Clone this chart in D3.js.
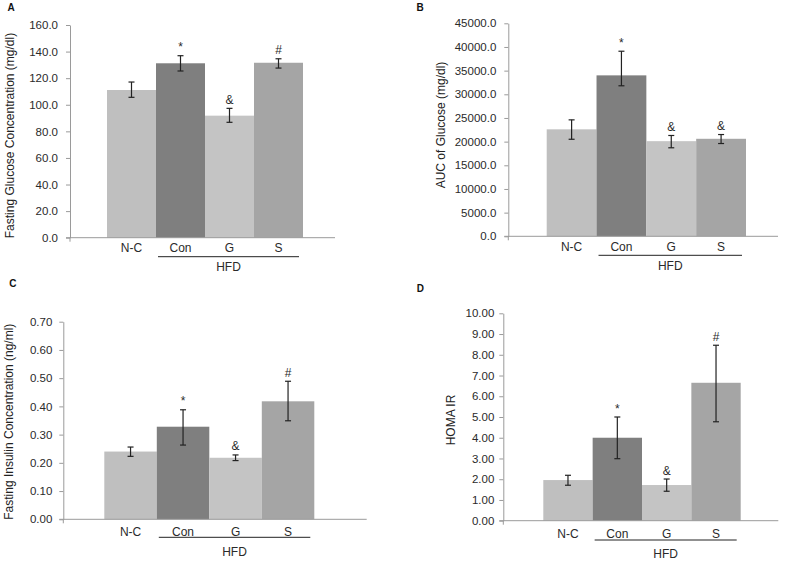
<!DOCTYPE html>
<html>
<head>
<meta charset="utf-8">
<script src="https://cdn.jsdelivr.net/npm/d3@7"></script>
<style>
  html, body { margin: 0; padding: 0; background: #ffffff; }
  svg { display: block; }
  text { font-family: "Liberation Sans", Arial, sans-serif; fill: #2a2a2a; }
</style>
</head>
<body>
<svg id="chart" width="787" height="562"></svg>
<script>
// ---------------- data ----------------
const categories = ["N-C", "Con", "G", "S"];
const groupLabel = "HFD";
const barColors = ["#bfbfbf", "#7f7f7f", "#c4c4c4", "#a5a5a5"];

// Panel A: fasting glucose
const glucoseMean = [111.1, 131.2, 91.8, 131.6];
const glucoseHigh = [117.1, 136.9, 97.3, 134.6];
const glucoseLow  = [105.6, 125.4, 86.8, 127.6];
const glucoseMarks = ["", "*", "&", "#"];
const glucoseTicks = [0, 20, 40, 60, 80, 100, 120, 140, 160];
const glucoseTickLabels = ["0.0", "20.0", "40.0", "60.0", "80.0", "100.0", "120.0", "140.0", "160.0"];

// Panel B: AUC of glucose
const aucMean = [22600, 34000, 20100, 20600];
const aucHigh = [24600, 39100, 21300, 21500];
const aucLow  = [20500, 31800, 18700, 19600];
const aucMarks = ["", "*", "&", "&"];
const aucTicks = [0, 5000, 10000, 15000, 20000, 25000, 30000, 35000, 40000, 45000];
const aucTickLabels = ["0.0", "5000.0", "10000.0", "15000.0", "20000.0", "25000.0", "30000.0", "35000.0", "40000.0", "45000.0"];

// Panel C: fasting insulin
const insulinMean = [0.240, 0.328, 0.218, 0.418];
const insulinHigh = [0.256, 0.388, 0.228, 0.489];
const insulinLow  = [0.223, 0.263, 0.208, 0.349];
const insulinMarks = ["", "*", "&", "#"];
const insulinTicks = [0, 0.1, 0.2, 0.3, 0.4, 0.5, 0.6, 0.7];
const insulinTickLabels = ["0.00", "0.10", "0.20", "0.30", "0.40", "0.50", "0.60", "0.70"];

// Panel D: HOMA IR
const homaMean = [1.96, 4.00, 1.72, 6.65];
const homaHigh = [2.19, 5.00, 2.01, 8.46];
const homaLow  = [1.71, 2.99, 1.42, 4.77];
const homaMarks = ["", "*", "&", "#"];
const homaTicks = [0, 1, 2, 3, 4, 5, 6, 7, 8, 9, 10];
const homaTickLabels = ["0.00", "1.00", "2.00", "3.00", "4.00", "5.00", "6.00", "7.00", "8.00", "9.00", "10.00"];

// ---------------- layout ----------------
const panels = [
  { letter: "A", lx: 7.5, ly: 10.5, title: "Fasting Glucose Concentration (mg/dl)", tx: 9.5, ty: 135.5,
    axisX: 70, right: 335, yTop: 25, yBot: 237.7, barL: 107, barR: 303, labelGap: 12,
    catDy: 14.5, lineDy: 19, hfdDy: 33,
    mean: glucoseMean, high: glucoseHigh, low: glucoseLow, marks: glucoseMarks,
    ticks: glucoseTicks, tickLabels: glucoseTickLabels },
  { letter: "B", lx: 416.5, ly: 10.8, title: "AUC of Glucose (mg/dl)", tx: 440.8, ty: 125,
    axisX: 508.3, right: 778, yTop: 23.3, yBot: 236.3, barL: 546.7, barR: 746, labelGap: 12,
    catDy: 14.5, lineDy: 19, hfdDy: 33.7,
    mean: aucMean, high: aucHigh, low: aucLow, marks: aucMarks,
    ticks: aucTicks, tickLabels: aucTickLabels },
  { letter: "C", lx: 9.3, ly: 286.8, title: "Fasting Insulin Concentration (ng/ml)", tx: 9.3, ty: 421.7,
    axisX: 63.3, right: 366.7, yTop: 321.7, yBot: 519.3, barL: 104.3, barR: 314.3, labelGap: 11,
    catDy: 16.5, lineDy: 18, hfdDy: 36.4,
    mean: insulinMean, high: insulinHigh, low: insulinLow, marks: insulinMarks,
    ticks: insulinTicks, tickLabels: insulinTickLabels },
  { letter: "D", lx: 416.7, ly: 291.7, title: "HOMA IR", tx: 450.5, ty: 420,
    axisX: 503.3, right: 778.3, yTop: 313.3, yBot: 520.7, barL: 543.3, barR: 740.7, labelGap: 9,
    catDy: 17, lineDy: 19.3, hfdDy: 37.6,
    mean: homaMean, high: homaHigh, low: homaLow, marks: homaMarks,
    ticks: homaTicks, tickLabels: homaTickLabels }
];

const svg = d3.select("#chart");

panels.forEach(p => {
  const g = svg.append("g");
  const maxV = p.ticks[p.ticks.length - 1];
  const y = d3.scaleLinear().domain([0, maxV]).range([p.yBot, p.yTop]);
  const x = d3.scaleBand().domain(categories).range([p.barL, p.barR]).padding(0);

  // panel letter
  g.append("text").attr("x", p.lx).attr("y", p.ly)
    .style("font-size", "10px").style("font-weight", "bold").style("fill", "#111")
    .text(p.letter);

  // bars
  g.selectAll("rect.bar").data(categories).join("rect")
    .attr("class", "bar")
    .attr("x", d => x(d))
    .attr("width", x.bandwidth())
    .attr("y", (d, i) => y(p.mean[i]))
    .attr("height", (d, i) => y(0) - y(p.mean[i]))
    .attr("fill", (d, i) => barColors[i]);

  // y axis
  const yAxis = d3.axisLeft(y).tickValues(p.ticks)
    .tickFormat((d, i) => p.tickLabels[i]).tickSizeOuter(0).tickSizeInner(4).tickPadding(p.labelGap - 4);
  const ya = g.append("g").attr("transform", `translate(${p.axisX},0)`).call(yAxis);
  ya.select(".domain").attr("stroke", "#9a9a9a");
  ya.selectAll(".tick line").attr("stroke", "#9a9a9a");
  ya.selectAll(".tick text").style("font-family", "\"Liberation Sans\", Arial, sans-serif")
    .style("font-size", "11.5px").attr("fill", "#2a2a2a");

  // x axis baseline
  g.append("line").attr("x1", p.axisX - 4).attr("x2", p.right)
    .attr("y1", y(0)).attr("y2", y(0)).attr("stroke", "#9a9a9a");
  g.append("line").attr("x1", p.axisX).attr("x2", p.axisX)
    .attr("y1", y(0)).attr("y2", y(0) + 4).attr("stroke", "#9a9a9a");

  // error bars
  const eb = g.selectAll("g.err").data(categories).join("g").attr("class", "err");
  const cx = d => x(d) + x.bandwidth() / 2;
  eb.append("line").attr("x1", cx).attr("x2", cx)
    .attr("y1", (d, i) => y(p.high[i])).attr("y2", (d, i) => y(p.low[i]));
  eb.append("line").attr("x1", d => cx(d) - 3).attr("x2", d => cx(d) + 3)
    .attr("y1", (d, i) => y(p.high[i])).attr("y2", (d, i) => y(p.high[i]));
  eb.append("line").attr("x1", d => cx(d) - 3).attr("x2", d => cx(d) + 3)
    .attr("y1", (d, i) => y(p.low[i])).attr("y2", (d, i) => y(p.low[i]));
  eb.selectAll("line").attr("stroke", "#222").attr("stroke-width", 1.2);

  // significance marks
  g.selectAll("text.mark").data(categories).join("text")
    .attr("class", "mark")
    .attr("x", cx)
    .attr("y", (d, i) => y(p.high[i]) - 4.5)
    .attr("text-anchor", "middle")
    .style("font-size", d => "12px")
    .text((d, i) => p.marks[i]);

  // category labels
  g.selectAll("text.cat").data(categories).join("text")
    .attr("class", "cat")
    .attr("x", cx)
    .attr("y", y(0) + p.catDy)
    .attr("text-anchor", "middle")
    .style("font-size", "12px")
    .text(d => d);

  // HFD group line + label
  const gx1 = x("Con") + 2, gx2 = x("S") + x.bandwidth() - 4;
  g.append("line").attr("x1", gx1).attr("x2", gx2)
    .attr("y1", y(0) + p.lineDy).attr("y2", y(0) + p.lineDy)
    .attr("stroke", "#222").attr("stroke-width", 1);
  g.append("text").attr("x", (gx1 + gx2) / 2).attr("y", y(0) + p.hfdDy)
    .attr("text-anchor", "middle").style("font-size", "12px").text(groupLabel);

  // y title
  g.append("text")
    .attr("transform", `translate(${p.tx},${p.ty}) rotate(-90)`)
    .attr("text-anchor", "middle").attr("dominant-baseline", "central")
    .style("font-size", "12px").style("fill", "#222")
    .text(p.title);
});
</script>
</body>
</html>
